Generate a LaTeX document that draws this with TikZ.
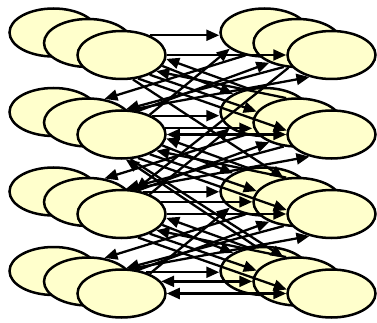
\documentclass[tikz,border=0pt]{standalone}
\usetikzlibrary{shapes.geometric,arrows.meta}
\definecolor{ellfill}{HTML}{FFFFCC}
\begin{document}
\begin{tikzpicture}[x=1pt,y=-1pt,
  ell/.style={ellipse, draw=black, line width=2.5pt, fill=ellfill,
              minimum width=88pt, minimum height=48pt, inner sep=0pt},
  arr/.style={line width=2.3pt, draw=black},
  >={Triangle[length=13pt,width=11pt]}]
\useasboundingbox (0,0) rectangle (377,323);
% ellipses
\foreach \r in {1,...,4}{
  \foreach \k/\xl/\xr/\dy in {1/53.5/264.5/0, 2/88/297.5/10.5, 3/121.5/331.5/22.5}{
    \node[ell] (L\r\k) at (\xl,{32.5+79.5*(\r-1)+\dy}) {};
    \node[ell] (R\r\k) at (\xr,{32.5+79.5*(\r-1)+\dy}) {};
  }
}
% horizontal connectors
\draw[arr,->] (L13.35) -- (L13.35 -| R11.west);
\draw[arr,->] (L13) -- (R13);
\draw[arr,->] (L23.32) -- (L23.32 -| R21.west);
\draw[arr,->] (L23.8) -- (L23.8 -| R22.west);
\draw[arr,<->] (L23) -- (R23);
\draw[arr,->] (L33.46) -- (L33.46 -| R31.west);
\draw[arr,->] (L33.17) -- (L33.17 -| R32.west);
\draw[arr,->] (L33) -- (R33);
\draw[arr,->] (L43.41) -- (L43.41 -| R41.west);
\draw[arr,<->] (L43.17) -- (L43.17 -| R42.west);
\draw[arr,<->] (L43) -- (R43);
% down-right: left row r to right row r+1
\foreach \r/\s in {1/2,2/3,3/4}{
  \draw[arr,->] (L\r3.-15) -- (R\s1.150);
  \draw[arr,->] (L\r3.-35) -- (R\s2.165);
  \draw[arr,->] (L\r3.-55) -- (R\s3.175);
}
% up-right: left row r+1 to right row r
\foreach \r/\s in {1/2,2/3,3/4}{
  \draw[arr,->] (L\s3.35) -- (R\r1.205);
  \draw[arr,->] (L\s3.55) -- (R\r2.215);
  \draw[arr,->] (L\s3.70) -- (R\r3.225);
}
% down-left: right row r to left row r+1
\foreach \r/\s in {1/2,2/3,3/4}{
  \draw[arr,->] (R\r1.230) -- (L\s2.55);
  \draw[arr,->] (R\r2.240) -- (L\s3.80);
}
% up-left: right row r+1 to left row r
\foreach \r/\s in {1/2,2/3,3/4}{
  \draw[arr,->] (R\s1.125) -- (L\r3.-5);
  \draw[arr,->] (R\s2.115) -- (L\r3.-25);
}
% long connectors
\draw[arr,->] (L13.-65) -- (R32.120);
\draw[arr,->] (L23.-70) -- (R42.120);
\draw[arr,->] (R41.110) -- (L23.-80);
\draw[arr,->] (R12.250) -- (L33.60);
\end{tikzpicture}
\end{document}
